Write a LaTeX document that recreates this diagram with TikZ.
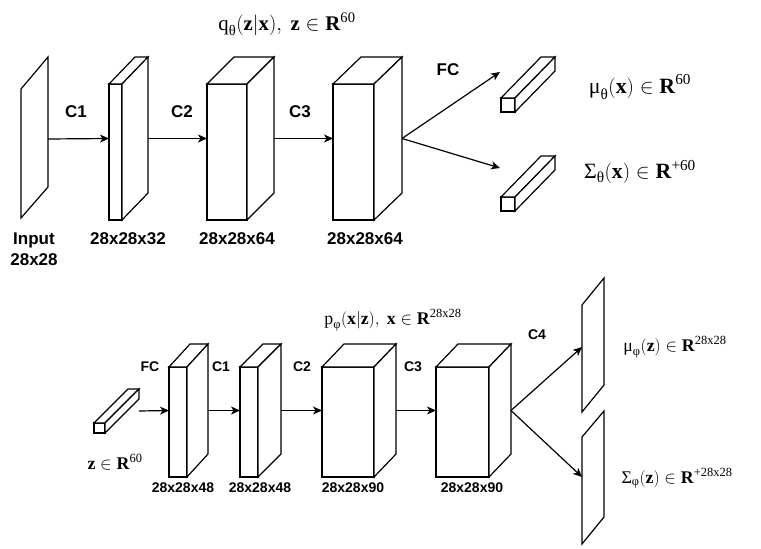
\documentclass[tikz,border=0pt]{standalone}
\usepackage{amsmath}
\usepackage{fontspec}
\setmainfont{Liberation Serif}
\setsansfont{Liberation Sans}
\usetikzlibrary{arrows.meta}
\newcommand\mycuboid[7]{%
  % name, x1, y1 (top), x2, y2 (bottom), dx, dy
  \draw[shapeline] (#2,#3) rectangle (#4,#5);
  \draw[shapeline] (#2,#3) -- ({#2+#6},{#3+#7}) -- ({#4+#6},{#3+#7}) -- (#4,#3) -- cycle;
  \draw[shapeline] (#4,#3) -- ({#4+#6},{#3+#7}) -- ({#4+#6},{#5+#7}) -- (#4,#5) -- cycle;
  \coordinate (#1-in) at (#2,{(#3+#7+#5)/2});
  \coordinate (#1-out) at ({#4+#6},{(#3+#7+#5)/2});
}
\newcommand\tb[1]{\textbf{#1}}
\newcommand\tx[1]{\text{#1}}
\tikzset{
  shapeline/.style={draw=black,fill=white,line width=1.2pt,line join=miter},
  conn/.style={line width=1.2pt,-{Stealth[length=9pt,width=8pt,inset=2.5pt]}},
  biglab/.style={font=\sffamily\bfseries\fontsize{17}{20}\selectfont,inner sep=0pt},
  smalllab/.style={font=\sffamily\bfseries\fontsize{14}{17}\selectfont,inner sep=0pt},
  titlelab/.style={font=\fontsize{20.8}{24}\selectfont,inner sep=0pt},
  mathlab/.style={font=\fontsize{21.8}{25}\selectfont,inner sep=0pt},
  mathsmall/.style={font=\fontsize{17.8}{20}\selectfont,inner sep=0pt}
}
\begin{document}
\begin{tikzpicture}[x=1pt,y=-1pt]
\useasboundingbox (0,0) rectangle (761,549);
\fill[white] (0,0) rectangle (761,549);

% ---------- encoder ----------
\draw[shapeline] (21,89) -- (48,57) -- (48,187) -- (21,218) -- cycle;
\coordinate (inp-out) at (48,139);
\mycuboid{b1}{109}{84}{122}{220}{26}{-27}
\mycuboid{b2}{207}{84}{247}{220}{27}{-27}
\mycuboid{b3}{333}{84}{374}{220}{28}{-27}
\mycuboid{m1}{501}{98}{515}{112}{40}{-41}
\mycuboid{s1}{501}{197}{515}{211}{40}{-41}
\coordinate (mu1) at (500,72);
\coordinate (sg1) at (500,168);

\draw[conn] (inp-out) -- (b1-in);
\draw[conn] (b1-out) -- (b2-in);
\draw[conn] (b2-out) -- (b3-in);
\draw[conn] (b3-out) -- (mu1);
\draw[conn] (b3-out) -- (sg1);

\node[biglab] (lc1) at (76,112) {C1};
\node[biglab] (lc2) at (182,112) {C2};
\node[biglab] (lc3) at (300,112) {C3};
\node[biglab] (lfc) at (448,70) {FC};
\node[biglab,align=center] (linp) at (34,249) {Input\\[1pt]28x28};
\node[biglab] (l1) at (128,239) {28x28x32};
\node[biglab] (l2) at (237,239) {28x28x64};
\node[biglab] (l3) at (365,239) {28x28x64};
\node[titlelab] (tq) at (287,24) {$\tx{q}_{\tx{θ}}(\tx{\tb{z}}|\tx{\tb{x}}),\ \tx{\tb{z}}\in\tx{\tb{R}}^{\tx{60}}$};
\node[mathlab] (tmu) at (640,87) {$\tx{μ}_{\tx{θ}}(\tx{\tb{x}})\in\tx{\tb{R}}^{\tx{60}}$};
\node[mathlab] (tsg) at (640,172) {$\tx{Σ}_{\tx{θ}}(\tx{\tb{x}})\in\tx{\tb{R}}^{\tx{+60}}$};

% ---------- decoder ----------
\mycuboid{zb}{94}{423}{105}{433}{34}{-34}
\coordinate (zb-o) at (139,411);
\mycuboid{d1}{169}{367}{187}{477}{21}{-23}
\mycuboid{d2}{240}{367}{258}{477}{23}{-23}
\mycuboid{d3}{322}{367}{374}{477}{22}{-23}
\mycuboid{d4}{436}{367}{489}{477}{22}{-23}
\draw[shapeline] (582,305) -- (604,278) -- (604,385) -- (582,412) -- cycle;
\draw[shapeline] (582,437) -- (604,411) -- (604,517) -- (582,544) -- cycle;
\coordinate (p1) at (582,347);
\coordinate (p2) at (582,477);

\draw[conn] (zb-o) -- (d1-in);
\draw[conn] (d1-out) -- (d2-in);
\draw[conn] (d2-out) -- (d3-in);
\draw[conn] (d3-out) -- (d4-in);
\draw[conn] (d4-out) -- (p1);
\draw[conn] (d4-out) -- (p2);

\node[smalllab] (dfc) at (150,367) {FC};
\node[smalllab] (dc1) at (221,367) {C1};
\node[smalllab] (dc2) at (302,367) {C2};
\node[smalllab] (dc3) at (413,367) {C3};
\node[smalllab] (dc4) at (537,335) {C4};
\node[smalllab] (dl1) at (183,488) {28x28x48};
\node[smalllab] (dl2) at (260,488) {28x28x48};
\node[smalllab] (dl3) at (353,488) {28x28x90};
\node[smalllab] (dl4) at (472,488) {28x28x90};
\node[mathsmall] (tz) at (115,462) {$\tx{\tb{z}}\in\tx{\tb{R}}^{\tx{60}}$};
\node[mathsmall] (tp) at (393,320) {$\tx{p}_{\tx{φ}}(\tx{\tb{x}}|\tx{\tb{z}}),\ \tx{\tb{x}}\in\tx{\tb{R}}^{\tx{28x28}}$};
\node[mathsmall] (tmu2) at (675,347) {$\tx{μ}_{\tx{φ}}(\tx{\tb{z}})\in\tx{\tb{R}}^{\tx{28x28}}$};
\node[mathsmall] (tsg2) at (677,478) {$\tx{Σ}_{\tx{φ}}(\tx{\tb{z}})\in\tx{\tb{R}}^{\tx{+28x28}}$};
\end{tikzpicture}
\end{document}
